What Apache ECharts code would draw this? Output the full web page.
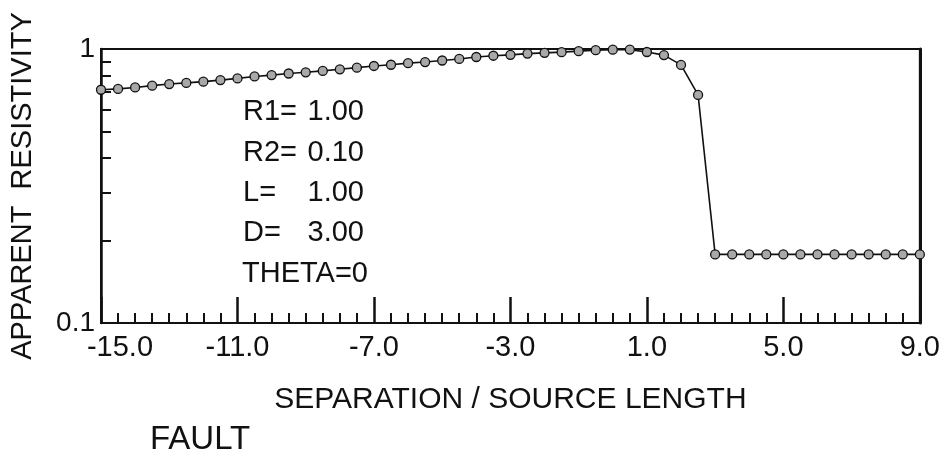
<!DOCTYPE html>
<html>
<head>
<meta charset="utf-8">
<script src="https://cdn.jsdelivr.net/npm/echarts@6/dist/echarts.min.js"></script>
<style>
  html, body { margin: 0; padding: 0; background: #fff; }
  #chart { width: 943px; height: 467px; }
</style>
</head>
<body>
<div id="chart"></div>
<script>
// separation / source length (one point every 0.5)
var separations = [
  -15, -14.5, -14, -13.5, -13, -12.5, -12, -11.5, -11, -10.5,
  -10, -9.5, -9, -8.5, -8, -7.5, -7, -6.5, -6, -5.5,
  -5, -4.5, -4, -3.5, -3, -2.5, -2, -1.5, -1, -0.5,
  0, 0.5, 1, 1.5, 2, 2.5, 3, 3.5, 4, 4.5,
  5, 5.5, 6, 6.5, 7, 7.5, 8, 8.5, 9
];
// apparent resistivity
var resistivity = [
  0.71, 0.715, 0.724, 0.735, 0.745, 0.752, 0.76, 0.77, 0.781, 0.794,
  0.803, 0.814, 0.822, 0.832, 0.843, 0.855, 0.867, 0.876, 0.888, 0.896,
  0.908, 0.92, 0.935, 0.945, 0.952, 0.962, 0.968, 0.974, 0.982, 0.99,
  0.994, 0.995, 0.975, 0.95, 0.875, 0.68, 0.178, 0.178, 0.178, 0.178,
  0.178, 0.178, 0.178, 0.178, 0.178, 0.178, 0.178, 0.178, 0.178
];
var xTicks = [-15, -11, -7, -3, 1, 5, 9];
var yMinorTicks = [0.2, 0.3, 0.4, 0.5, 0.6, 0.7, 0.8, 0.9];
var yLabels = [0.1, 1];
var paramNames = ["R1=", "R2=", "L=", "D="];
var paramValues = ["1.00", "0.10", "1.00", "3.00"];
var thetaText = "THETA=0";

var FONT = '"Liberation Sans", Arial, sans-serif';
var INK = "#111";

var myChart = echarts.init(document.getElementById("chart"));

var points = separations.map(function (x, i) {
  return [x, resistivity[i]];
});

// 参数文字
var graphics = [];
var rowY = [112, 153, 193, 233];
paramNames.forEach(function (name, i) {
  graphics.push({
    type: "text",
    style: { text: name, x: 243, y: rowY[i], fill: INK, font: "29px " + FONT, align: "left", verticalAlign: "middle" }
  });
  graphics.push({
    type: "text",
    style: { text: paramValues[i], x: 364, y: rowY[i], fill: INK, font: "29px " + FONT, align: "right", verticalAlign: "middle" }
  });
});
graphics.push({
  type: "text",
  style: { text: thetaText, x: 242, y: 274, fill: INK, font: "29px " + FONT, align: "left", verticalAlign: "middle" }
});
graphics.push({
  type: "text",
  style: { text: "FAULT", x: 150, y: 440, fill: INK, font: "33px " + FONT, align: "left", verticalAlign: "middle" }
});

myChart.setOption({
  backgroundColor: "#fff",
  animation: false,
  grid: {
    left: 95,
    right: 22,
    top: 49,
    bottom: 144,
    show: true,
    borderColor: INK,
    borderWidth: 2
  },
  xAxis: {
    type: "value",
    min: -15,
    max: 9,
    interval: 4,
    name: "SEPARATION / SOURCE LENGTH",
    nameLocation: "middle",
    nameGap: 62,
    nameTextStyle: { color: INK, fontSize: 30, fontFamily: FONT },
    axisLine: { onZero: false, lineStyle: { color: INK, width: 2 } },
    axisTick: { inside: true, length: 26, lineStyle: { color: INK, width: 2.5 } },
    minorTick: { show: true, splitNumber: 8, length: 10, lineStyle: { color: INK, width: 2 } },
    splitLine: { show: false },
    axisLabel: {
      color: INK,
      fontSize: 29,
      fontFamily: FONT,
      margin: 10,
      formatter: function (v) {
        if (v === xTicks[0]) return "{first|" + v.toFixed(1) + "}";
        return v.toFixed(1);
      },
      rich: {
        first: { fontSize: 29, fontFamily: FONT, color: INK, padding: [0, 0, 0, 38] }
      }
    }
  },
  yAxis: [
    {
      type: "log",
      logBase: 10,
      min: 0.1,
      max: 1,
      name: "APPARENT  RESISTIVITY",
      nameLocation: "middle",
      nameGap: 64,
      nameTextStyle: { color: INK, fontSize: 29, fontFamily: FONT },
      axisLine: { show: true, onZero: false, lineStyle: { color: INK, width: 2.5 } },
      axisTick: { show: true, inside: true, length: 10, customValues: yMinorTicks, lineStyle: { color: INK, width: 2 } },
      splitLine: { show: false },
      axisLabel: {
        color: INK,
        fontSize: 28,
        fontFamily: FONT,
        margin: 6,
        customValues: yLabels,
        formatter: function (v) {
          return v > 0.5 ? "1" : "0.1";
        }
      }
    },
    {
      type: "log",
      logBase: 10,
      min: 0.1,
      max: 1,
      position: "right",
      axisLine: { show: true, onZero: false, lineStyle: { color: INK, width: 3 } },
      axisTick: { show: false },
      axisLabel: { show: false },
      splitLine: { show: false }
    }
  ],
  series: [
    {
      name: "resistivity",
      type: "line",
      data: points,
      symbol: "circle",
      symbolSize: 9,
      lineStyle: { color: INK, width: 1.6 },
      itemStyle: { color: "#a8a8a8", borderColor: INK, borderWidth: 1.3 }
    }
  ],
  graphic: graphics
});
</script>
</body>
</html>
